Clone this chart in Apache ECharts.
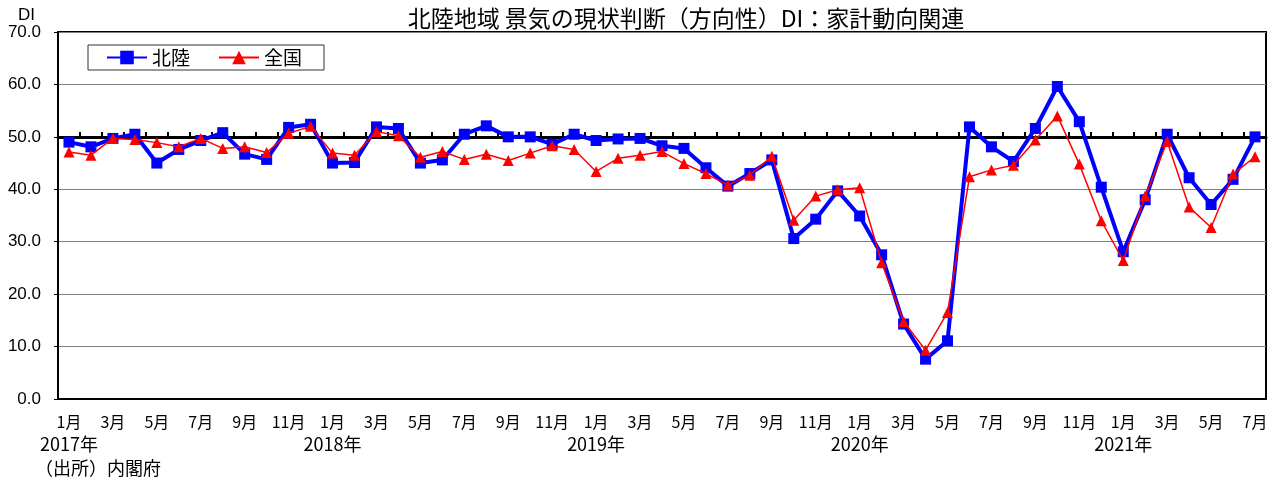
<!DOCTYPE html>
<html>
<head>
<meta charset="utf-8">
<script src="https://cdn.jsdelivr.net/npm/echarts@6/dist/echarts.min.js"></script>
<style>
    html, body { margin: 0; padding: 0; background: #fff; }
    #chart { width: 1278px; height: 483px; }
</style>
</head>
<body>
<div id="chart"></div>
<script>
const months = ['1月', '2月', '3月', '4月', '5月', '6月', '7月', '8月', '9月', '10月', '11月', '12月'];
const years = ['2017年', '2018年', '2019年', '2020年', '2021年'];
const monthCount = 55; // 2017/1 - 2021/7

// 北陸
const hokuriku = [
    49.0, 48.1, 49.7, 50.5, 45.0, 47.6, 49.3, 50.8, 46.7, 45.7, 51.8, 52.4,
    45.0, 45.1, 51.9, 51.6, 45.0, 45.6, 50.5, 52.1, 50.0, 50.0, 48.6, 50.5,
    49.3, 49.6, 49.7, 48.3, 47.8, 44.1, 40.6, 43.0, 45.6, 30.6, 34.3, 39.7,
    34.9, 27.5, 14.3, 7.6, 11.1, 51.9, 48.1, 45.3, 51.6, 59.6, 52.9, 40.4,
    28.1, 38.0, 50.5, 42.2, 37.1, 41.9, 50.0,
];
// 全国
const zenkoku = [
    47.1, 46.5, 49.7, 49.5, 48.9, 48.1, 49.7, 47.8, 48.1, 47.0, 50.7, 52.0,
    46.9, 46.5, 51.0, 50.2, 46.1, 47.2, 45.7, 46.7, 45.5, 46.9, 48.3, 47.6,
    43.4, 45.9, 46.5, 47.2, 44.9, 43.0, 40.8, 42.7, 46.3, 34.1, 38.7, 39.9,
    40.3, 26.0, 14.8, 9.3, 16.5, 42.4, 43.7, 44.6, 49.4, 54.0, 44.8, 34.0,
    26.4, 38.7, 49.1, 36.6, 32.7, 42.9, 46.2,
];

const categories = Array.from({ length: monthCount }, (_, i) => {
    const m = months[i % 12];
    return i % 12 === 0 ? `${m}\n{y|${years[i / 12]}}` : m;
});

const jpFont = '"Noto Sans CJK JP", sans-serif';
const chart = echarts.init(document.getElementById('chart'));

chart.setOption({
    animation: false,
    backgroundColor: '#fff',
    title: [
        {
            text: '北陸地域 景気の現状判断（方向性）DI：家計動向関連',
            left: 681,
            textAlign: 'center',
            top: 2,
            textStyle: { fontFamily: jpFont, fontSize: 23, fontWeight: 'normal', color: '#000' },
        },
        {
            text: 'DI',
            left: 13,
            top: 2,
            textStyle: { fontFamily: '"Liberation Sans", Arial, sans-serif', fontSize: 17, fontWeight: 'normal', color: '#000' },
        },
        {
            text: '（出所）内閣府',
            left: 30,
            top: 454,
            textStyle: { fontFamily: jpFont, fontSize: 18, fontWeight: 'normal', color: '#000' },
        },
    ],
    legend: {
        left: 88,
        top: 45,
        padding: [3, 22, 3, 18],
        itemGap: 28,
        itemWidth: 40,
        itemHeight: 17,
        borderColor: '#333',
        borderWidth: 1,
        backgroundColor: '#fff',
        textStyle: { fontFamily: jpFont, fontSize: 19, color: '#000' },
        data: ['北陸', '全国'],
    },
    grid: [
        {
            left: 58, right: 12, top: 32, bottom: 84,
            show: true, borderColor: '#000', borderWidth: 2,
        },
        // 50 line (category axis crossing)
        { left: 58, right: 12, top: 32, height: 105 },
    ],
    xAxis: [
        {
            type: 'category',
            gridIndex: 0,
            data: categories,
            boundaryGap: true,
            axisLine: { lineStyle: { color: '#000', width: 2 } },
            axisTick: { show: false },
            axisLabel: {
                interval: 1,
                margin: 11,
                fontFamily: jpFont,
                fontSize: 16,
                lineHeight: 23,
                color: '#000',
                rich: {
                    y: { fontFamily: jpFont, fontSize: 18, lineHeight: 23, color: '#000' },
                },
            },
        },
        {
            type: 'category',
            gridIndex: 1,
            data: categories,
            boundaryGap: true,
            axisLine: { lineStyle: { color: '#000', width: 3 } },
            axisTick: { show: true, inside: true, interval: 0, length: 5, lineStyle: { color: '#000', width: 2 } },
            axisLabel: { show: false },
        },
    ],
    yAxis: [
        {
            type: 'value',
            gridIndex: 0,
            min: 0,
            max: 70,
            interval: 10,
            axisLine: { show: true, lineStyle: { color: '#000', width: 2 } },
            axisTick: { show: true, length: 4, lineStyle: { color: '#000' } },
            axisLabel: {
                margin: 17,
                fontFamily: '"Liberation Sans", Arial, sans-serif',
                fontSize: 17,
                color: '#000',
                formatter: v => v.toFixed(1),
            },
            splitLine: { lineStyle: { color: '#808080', width: 1 } },
        },
        { type: 'value', gridIndex: 1, min: 0, max: 1, show: false },
    ],
    series: [
        {
            name: '北陸',
            type: 'line',
            data: hokuriku,
            symbol: 'rect',
            symbolSize: 11,
            itemStyle: { color: '#0000FF' },
            lineStyle: { color: '#0000FF', width: 4 },
            z: 3,
        },
        {
            name: '全国',
            type: 'line',
            data: zenkoku,
            symbol: 'triangle',
            symbolSize: 11,
            itemStyle: { color: '#FF0000' },
            lineStyle: { color: '#FF0000', width: 1.5 },
            z: 4,
        },
    ],
});
</script>
</body>
</html>
